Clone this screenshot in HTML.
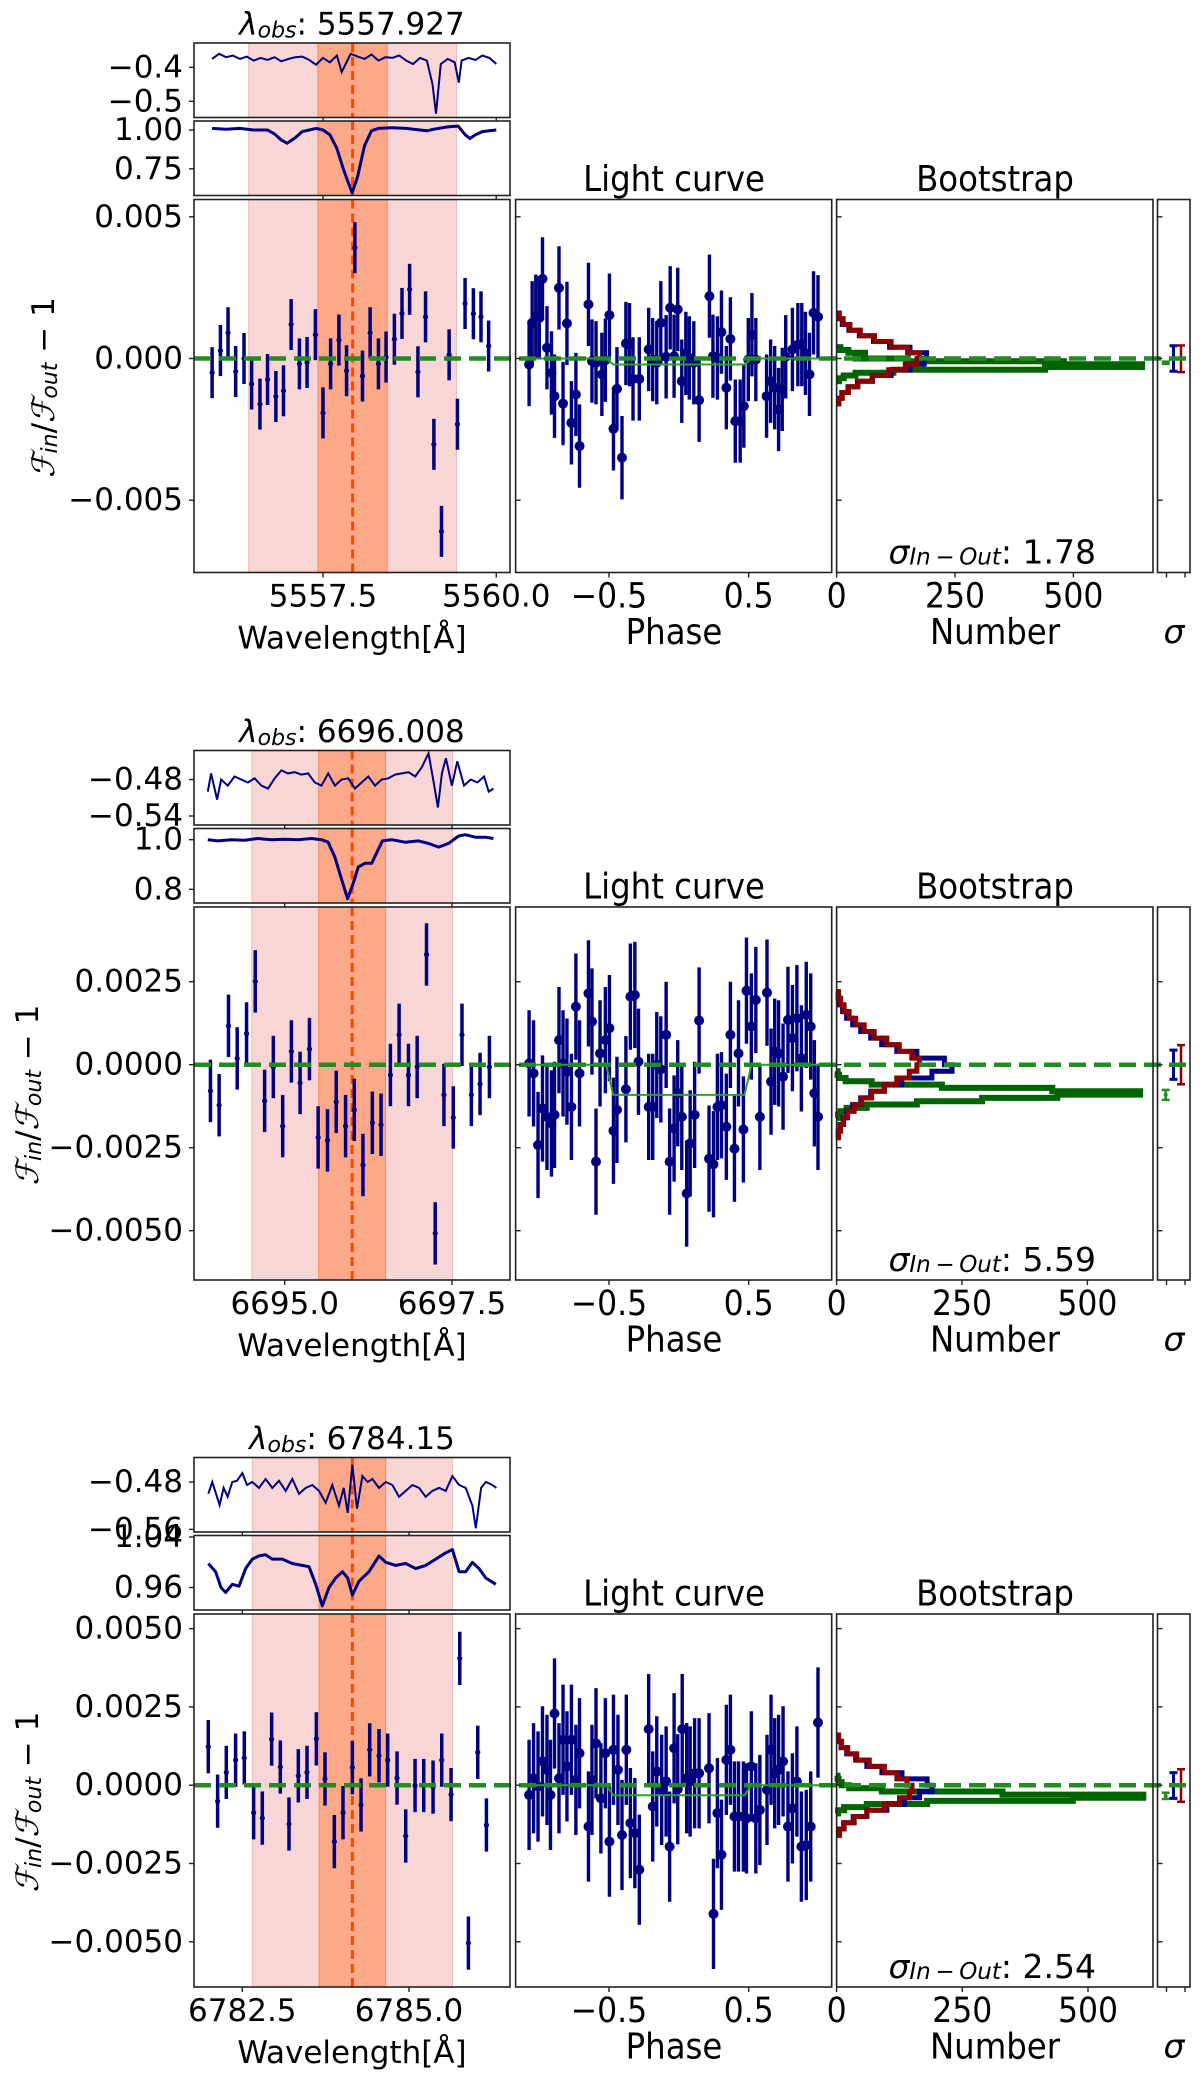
<!DOCTYPE html>
<html><head><meta charset="utf-8"><style>
html,body{margin:0;padding:0;background:#fff}
svg{display:block}
text{font-family:"DejaVu Sans","Liberation Sans",sans-serif;fill:#000}
.cond{font-family:"DejaVu Sans Condensed","DejaVu Sans","Liberation Sans Narrow",sans-serif;font-size:36px}
.condt{font-family:"DejaVu Sans Condensed","DejaVu Sans","Liberation Sans Narrow",sans-serif;font-size:35px}
</style></head><body>
<svg id="fig" width="1200" height="2083" viewBox="0 0 1200 2083" xmlns="http://www.w3.org/2000/svg"></svg>
<script>
// ---------- data ----------
const titles = ["5557.927","6696.008","6784.15"];
const sigmaVals = ["1.78","5.59","2.54"];
const lineCenters = [5557.927, 6696.008, 6784.15];
const wlTicks = [[5557.5,5560.0],[6695.0,6697.5],[6782.5,6785.0]];
const wlTickLabels = [["5557.5","5560.0"],["6695.0","6697.5"],["6782.5","6785.0"]];
const mainTicks = [[0.005,0,-0.005],[0.0025,0,-0.0025,-0.005],[0.005,0.0025,0,-0.0025,-0.005]];
const mainTickLabels = [["0.005","0.000","\u22120.005"],["0.0025","0.0000","\u22120.0025","\u22120.0050"],["0.0050","0.0025","0.0000","\u22120.0025","\u22120.0050"]];
const residTicks = [[-0.4,-0.5],[-0.48,-0.54],[-0.48,-0.56]];
const residTickLabels = [["\u22120.4","\u22120.5"],["\u22120.48","\u22120.54"],["\u22120.48","\u22120.56"]];
const fluxTicks = [[1.0,0.75],[1.0,0.8],[1.04,0.96]];
const fluxTickLabels = [["1.00","0.75"],["1.0","0.8"],["1.04","0.96"]];
const phaseTicks = [-0.5,0.5];
const phaseTickLabels = ["\u22120.5","0.5"];
const countTicks = [0,250,500];
const countTickLabels = ["0","250","500"];

// main transmission points
const p1Wl = [5555.90,5556.02,5556.13,5556.24,5556.36,5556.47,5556.59,5556.70,5556.82,5556.93,5557.04,5557.16,5557.27,5557.39,5557.50,5557.61,5557.73,5557.84,5557.96,5558.07,5558.18,5558.30,5558.41,5558.53,5558.64,5558.75,5558.87,5558.98,5559.10,5559.21,5559.32,5559.44,5559.55,5559.67,5559.78,5559.89];
const p1Val = [-0.0005,0.00028,0.00091,-0.00046,0,-0.0009,-0.00161,-0.00074,-0.00134,-0.00114,0.0012,-0.00019,-0.00014,0.00084,-0.00192,-0.00019,0.00065,-0.00043,0.00391,-0.00062,0.00091,-0.00019,0.00005,0.00068,0.00159,0.00244,-0.00047,0.00147,-0.00303,-0.0061,0.00013,-0.00232,0.00194,0.00158,0.00147,0.00044];
const p2Wl = [6693.89,6694.02,6694.16,6694.29,6694.43,6694.56,6694.70,6694.83,6694.97,6695.10,6695.23,6695.37,6695.50,6695.64,6695.77,6695.91,6696.04,6696.17,6696.31,6696.44,6696.58,6696.71,6696.85,6696.98,6697.12,6697.25,6697.38,6697.52,6697.65,6697.79,6697.92,6698.06];
const p2Val = [-0.00079,-0.00122,0.00117,0.00019,0.00094,0.00251,-0.00109,-0.00007,-0.00185,0.0004,-0.00055,0.00047,-0.00219,-0.00228,-0.00112,-0.00185,-0.00136,-0.00302,-0.00175,-0.00181,-0.00031,0.0009,-0.00031,-0.00007,0.00332,-0.00508,-0.00091,-0.00159,0.0009,-0.00091,-0.00058,-0.00007];
const p3Wl = [6781.99,6782.13,6782.26,6782.40,6782.53,6782.67,6782.80,6782.94,6783.07,6783.20,6783.34,6783.47,6783.61,6783.74,6783.88,6784.01,6784.15,6784.28,6784.41,6784.55,6784.68,6784.82,6784.95,6785.09,6785.22,6785.36,6785.49,6785.63,6785.76,6785.89,6786.03,6786.16];
const p3Val = [0.00123,-0.00051,0.00041,0.0008,0.00087,-0.00088,-0.00105,0.00147,0.00058,-0.00124,0.0003,0.00041,0.00148,0.0002,-0.0018,-0.00088,0.00056,-0.00063,0.00113,0.00094,0.0008,0.00023,-0.00162,-0.00001,-0.00001,-0.00006,0.0008,-0.0003,0.00405,-0.00504,0.00105,-0.00127];
const mainErr = [0.0009,0.00094,0.00085];

// residual spectra
const p1ResWl = [5555.9,5556.0,5556.1,5556.2,5556.3,5556.4,5556.5,5556.6,5556.7,5556.8,5556.9,5557.0,5557.1,5557.2,5557.3,5557.4,5557.5,5557.6,5557.7,5557.77,5557.9,5558.0,5558.1,5558.2,5558.3,5558.4,5558.5,5558.6,5558.7,5558.8,5558.9,5559.0,5559.08,5559.13,5559.2,5559.3,5559.4,5559.46,5559.5,5559.6,5559.7,5559.8,5559.9,5560.0];
const p1Res = [-0.375,-0.36,-0.37,-0.365,-0.375,-0.368,-0.38,-0.372,-0.378,-0.37,-0.382,-0.375,-0.37,-0.368,-0.378,-0.392,-0.372,-0.385,-0.365,-0.414,-0.36,-0.368,-0.375,-0.362,-0.38,-0.37,-0.372,-0.365,-0.38,-0.39,-0.372,-0.38,-0.45,-0.537,-0.39,-0.375,-0.385,-0.445,-0.38,-0.372,-0.378,-0.365,-0.372,-0.39];
const p2ResWl = [6693.85,6693.9,6693.99,6694.05,6694.15,6694.25,6694.35,6694.45,6694.55,6694.65,6694.75,6694.85,6694.95,6695.05,6695.15,6695.25,6695.35,6695.45,6695.55,6695.65,6695.75,6695.85,6695.95,6696.05,6696.15,6696.25,6696.35,6696.45,6696.55,6696.65,6696.75,6696.85,6696.95,6697.05,6697.15,6697.22,6697.29,6697.35,6697.41,6697.5,6697.58,6697.68,6697.78,6697.88,6697.98,6698.05,6698.12];
const p2Res = [-0.50,-0.47,-0.513,-0.48,-0.49,-0.475,-0.48,-0.485,-0.478,-0.49,-0.495,-0.478,-0.465,-0.47,-0.468,-0.472,-0.47,-0.485,-0.49,-0.47,-0.49,-0.48,-0.478,-0.495,-0.485,-0.475,-0.49,-0.48,-0.478,-0.472,-0.47,-0.468,-0.475,-0.46,-0.437,-0.48,-0.526,-0.47,-0.445,-0.49,-0.45,-0.49,-0.48,-0.485,-0.475,-0.50,-0.495];
const p3ResWl = [6781.99,6782.05,6782.16,6782.22,6782.28,6782.35,6782.42,6782.5,6782.57,6782.65,6782.75,6782.85,6782.95,6783.05,6783.15,6783.25,6783.35,6783.45,6783.55,6783.65,6783.75,6783.85,6783.95,6784.02,6784.08,6784.15,6784.22,6784.3,6784.38,6784.45,6784.55,6784.65,6784.75,6784.85,6784.95,6785.05,6785.15,6785.25,6785.35,6785.45,6785.55,6785.65,6785.75,6785.85,6785.95,6786.0,6786.08,6786.15,6786.25,6786.31];
const p3Res = [-0.50,-0.48,-0.519,-0.49,-0.505,-0.48,-0.478,-0.465,-0.485,-0.48,-0.49,-0.475,-0.49,-0.478,-0.495,-0.475,-0.50,-0.49,-0.485,-0.495,-0.515,-0.485,-0.52,-0.49,-0.532,-0.451,-0.525,-0.47,-0.48,-0.475,-0.49,-0.48,-0.485,-0.505,-0.495,-0.485,-0.49,-0.505,-0.495,-0.49,-0.495,-0.47,-0.485,-0.49,-0.52,-0.558,-0.49,-0.48,-0.485,-0.49];

// normalized flux spectra
const p1FluxWl = [5555.9,5556.1,5556.3,5556.5,5556.7,5556.8,5556.9,5556.98,5557.1,5557.2,5557.3,5557.4,5557.5,5557.6,5557.7,5557.8,5557.92,5558.0,5558.1,5558.2,5558.3,5558.5,5558.7,5558.9,5559.0,5559.1,5559.3,5559.45,5559.55,5559.62,5559.7,5559.8,5559.9,5560.0];
const p1Flux = [1.01,1.005,1.01,1.0,1.0,0.975,0.935,0.915,0.95,0.99,1.0,1.01,1.0,0.97,0.88,0.74,0.595,0.70,0.90,0.995,1.01,1.015,1.01,1.0,0.995,1.005,1.02,1.025,0.97,0.945,0.97,0.99,0.995,1.0];
const p2FluxWl = [6693.85,6694.0,6694.2,6694.4,6694.6,6694.8,6695.0,6695.2,6695.4,6695.55,6695.65,6695.75,6695.85,6695.94,6696.02,6696.1,6696.2,6696.3,6696.38,6696.46,6696.6,6696.8,6697.0,6697.15,6697.3,6697.45,6697.6,6697.7,6697.85,6698.0,6698.12];
const p2Flux = [1.0,0.995,1.0,0.998,1.005,1.0,1.002,1.0,1.005,1.0,0.99,0.93,0.84,0.762,0.82,0.89,0.905,0.905,0.95,0.995,1.0,0.99,0.995,0.985,0.97,0.985,1.015,1.02,1.01,1.01,1.005];
const p3FluxWl = [6781.99,6782.1,6782.18,6782.25,6782.35,6782.45,6782.55,6782.65,6782.75,6782.85,6782.95,6783.1,6783.25,6783.4,6783.5,6783.6,6783.7,6783.8,6783.9,6784.0,6784.08,6784.15,6784.25,6784.4,6784.55,6784.65,6784.8,6784.95,6785.1,6785.25,6785.4,6785.55,6785.65,6785.75,6785.85,6785.95,6786.05,6786.15,6786.3];
const p3Flux = [0.998,0.985,0.96,0.952,0.965,0.962,0.99,1.005,1.01,1.012,1.005,1.005,0.998,0.995,0.993,0.965,0.931,0.96,0.975,0.985,0.975,0.948,0.97,0.985,1.01,1.0,0.995,0.998,0.99,0.995,1.005,1.015,1.02,0.985,0.985,1.0,0.99,0.975,0.965];

// light curves
const p1LcPhase = [-1.072,-1.05,-1.024,-0.999,-0.976,-0.944,-0.912,-0.89,-0.858,-0.829,-0.801,-0.769,-0.737,-0.711,-0.647,-0.622,-0.593,-0.551,-0.526,-0.497,-0.468,-0.443,-0.407,-0.379,-0.353,-0.328,-0.283,-0.216,-0.187,-0.158,-0.129,-0.091,-0.062,-0.034,-0.008,0.021,0.05,0.075,0.107,0.145,0.219,0.244,0.276,0.305,0.34,0.369,0.404,0.439,0.465,0.497,0.523,0.551,0.628,0.657,0.686,0.714,0.74,0.765,0.813,0.852,0.88,0.906,0.935,0.964,0.996];
const p1LcVal = [-0.00021,0.00126,0.00149,0.00143,0.00281,0.00038,-0.00051,-0.00133,0.00249,-0.00159,0.00124,-0.00227,-0.00127,-0.00309,0.00191,-0.00009,-0.00015,-0.00056,-0.00006,0.00153,-0.00248,-0.00107,-0.0035,0.00053,0.00049,-0.00072,-0.00072,0.00032,-0.00004,-0.00015,0.00126,0.00006,0.00179,0.00008,0.00173,-0.0008,0.00018,0.00002,-0.00015,-0.00147,0.0022,0.00008,0.00002,0.00093,-0.00103,0.00069,-0.00221,-0.00221,-0.00168,-0.00004,0.00084,-0.00004,-0.00133,-0.0008,-0.00103,-0.0018,-0.00109,0.00006,0.00032,0.00049,0.00049,0.00018,-0.00056,0.00161,0.00147];
const p2LcPhase = [-1.072,-1.04,-1.008,-0.976,-0.944,-0.912,-0.89,-0.858,-0.829,-0.801,-0.769,-0.737,-0.711,-0.647,-0.622,-0.593,-0.564,-0.526,-0.497,-0.468,-0.443,-0.379,-0.347,-0.315,-0.289,-0.216,-0.187,-0.158,-0.129,-0.091,-0.066,-0.034,-0.008,0.021,0.056,0.081,0.113,0.145,0.216,0.248,0.276,0.305,0.34,0.369,0.398,0.427,0.462,0.484,0.519,0.551,0.58,0.631,0.66,0.686,0.714,0.746,0.781,0.813,0.845,0.877,0.912,0.944,0.97,0.996];
const p2LcVal = [0.00004,-0.00026,-0.00242,-0.00132,-0.00157,-0.00177,-0.00151,0.00074,0.00004,-0.00021,-0.00127,0.00175,-0.00026,0.00215,0.0013,-0.00292,0.00034,0.00074,0.0011,-0.00199,-0.00136,-0.00074,0.00205,0.0021,0.00009,-0.00127,-0.00127,-0.00001,-0.00014,0.0009,-0.00292,-0.00192,-0.00086,-0.00157,-0.00388,-0.00237,-0.00151,0.00133,-0.00283,-0.003,-0.00127,-0.00122,-0.00187,0.0009,-0.00253,0.00034,-0.00195,0.00223,0.00115,0.00195,-0.00157,0.00217,-0.00051,0.00039,0.00034,-0.00036,0.00135,0.0008,0.0014,0.00019,0.0015,0.00115,-0.00086,-0.00157];
const p3LcPhase = [-1.072,-1.04,-1.008,-0.976,-0.944,-0.919,-0.89,-0.858,-0.829,-0.801,-0.769,-0.737,-0.711,-0.647,-0.622,-0.593,-0.558,-0.526,-0.497,-0.468,-0.436,-0.407,-0.376,-0.347,-0.315,-0.283,-0.216,-0.187,-0.158,-0.123,-0.091,-0.066,-0.034,-0.008,0.024,0.056,0.081,0.113,0.145,0.216,0.248,0.276,0.305,0.34,0.369,0.398,0.427,0.462,0.484,0.519,0.551,0.58,0.631,0.66,0.686,0.714,0.746,0.781,0.813,0.845,0.877,0.912,0.944,0.996];
const p3LcVal = [-0.00031,0.00022,-0.00004,0.00076,0.00049,-0.00031,0.00229,0.00022,0.00145,0.0006,0.00145,0.00017,0.00102,-0.00132,0.00017,0.00134,-0.00042,0.00102,-0.0018,0.00113,0.00049,-0.00159,0.00113,-0.00121,-0.00153,-0.0027,0.00179,-0.00068,0.00044,-0.00015,0.00012,-0.00196,0.00118,-0.00013,0.00179,0.00022,0.00012,0.00038,0.00038,0.00054,-0.00411,-0.00089,-0.00222,0.00081,0.00113,-0.001,-0.001,-0.001,-0.00106,0.0006,-0.00106,-0.00079,-0.00015,0.00113,0.00038,0.00049,0.00076,-0.00132,-0.00074,0.00012,-0.00196,-0.00191,-0.00132,0.002];
const lcErr = [0.00147,0.0016,0.00176];
const modelPhase = [-1.1,-0.52,-0.47,0.47,0.52,1.1];
const modelDepth = [-0.00021,-0.00091,-0.00032];

// bootstrap histograms (bin edges in flux units, counts bottom->top)
const p1HistEdges = [-0.0016,-0.0014,-0.0012,-0.001,-0.0008,-0.0006,-0.0004,-0.0002,0,0.0002,0.0004,0.0006,0.0008,0.001,0.0012,0.0014,0.0016];
const p1Red = [5,12,25,45,75,110,145,170,175,150,115,80,50,28,14,6];
const p1Blue = [4,11,24,44,76,115,155,185,190,155,112,78,48,26,12,5];
const p1GreenEdges = [-0.0008,-0.0007,-0.0006,-0.0005,-0.0004,-0.0003,-0.0002,-0.0001,0,0.0001,0.0002,0.0003,0.0004];
const p1Green = [5,15,40,120,440,645,480,150,40,60,25,8];
const p2HistEdges = [-0.0022,-0.002,-0.0018,-0.0016,-0.0014,-0.0012,-0.001,-0.0008,-0.0006,-0.0004,-0.0002,0,0.0002,0.0004,0.0006,0.0008,0.001,0.0012,0.0014,0.0016,0.0018,0.002,0.0022];
const p2Red = [4,8,14,22,35,50,70,95,120,145,160,165,150,125,100,75,55,38,25,15,8,4];
const p2Blue = [3,7,13,20,32,48,68,95,130,190,230,215,160,120,90,68,48,32,20,12,6,3];
const p2GreenEdges = [-0.0016,-0.0015,-0.0014,-0.0013,-0.0012,-0.0011,-0.001,-0.0009,-0.0008,-0.0007,-0.0006,-0.0005,-0.0004,-0.0003,-0.0002];
const p2Green = [3,8,20,60,160,290,440,605,430,210,70,18,5,2];
const p3HistEdges = [-0.0016,-0.0014,-0.0012,-0.001,-0.0008,-0.0006,-0.0004,-0.0002,0,0.0002,0.0004,0.0006,0.0008,0.001,0.0012,0.0014,0.0016];
const p3Red = [6,15,35,60,95,125,145,150,140,120,95,65,40,22,10,4];
const p3Blue = [5,14,33,60,100,135,165,190,180,130,90,60,38,20,9,4];
const p3GreenEdges = [-0.0009,-0.0008,-0.0007,-0.0006,-0.0005,-0.0004,-0.0003,-0.0002,-0.0001,0,0.0001,0.0002,0.0003];
const p3Green = [3,15,60,180,470,610,330,90,25,10,4,2];

// sigma panel error bars: [center, half-width]
const sigGreen = [[-0.00015,0.00004],[-0.00091,0.00015],[-0.00034,0.0001]];
const sigBlue = [[0,0.00045],[0,0.00044],[-0.00001,0.00041]];
const sigRed = [[-0.00001,0.00047],[0,0.00059],[-0.00001,0.00052]];

// ---------- layout (pixels) ----------
const panelTop = [199.5, 907, 1614];
const H = 373;
const MX0=194, MX1=510, LX0=515.6, LX1=831.7, BX0=836.6, BX1=1153, SX0=1157.5, SX1=1190;
const zeroOff=[159,157.7,171.2], pxPerUnit=[28340,33200,31320];
const wlRef=[[5557.5,323],[6695,284.7],[6782.5,242.3]], wlScale=[69.3,66.9,66.7];
const resRef=[[-0.4,-132.1,-0.5,-98.2],[-0.48,-127.5,-0.54,-91],[-0.48,-132,-0.56,-84.6]];
const fluxRef=[[1.0,-69.5,0.75,-30.7],[1.0,-67.3,0.8,-17.7],[1.04,-77,0.96,-26.5]];
const countScale=[118.4/250,125.4/250,125.7/250];

const NS="http://www.w3.org/2000/svg";
const svg=document.getElementById('fig');
function el(tag,attrs,parent){const e=document.createElementNS(NS,tag);for(const k in attrs)e.setAttribute(k,attrs[k]);(parent||svg).appendChild(e);return e;}
function txt(x,y,s,size,anchor,parent,cls){const t=el('text',{x:x,y:y,'font-size':size,'text-anchor':anchor||'middle','dominant-baseline':'central'},parent);if(cls)t.setAttribute('class',cls);t.textContent=s;return t;}

const NAVY="#000080", GREEN="#228b22", DGREEN="#006400";
const allWl=[p1Wl,p2Wl,p3Wl], allVal=[p1Val,p2Val,p3Val];
const allResWl=[p1ResWl,p2ResWl,p3ResWl], allRes=[p1Res,p2Res,p3Res];
const allFluxWl=[p1FluxWl,p2FluxWl,p3FluxWl], allFlux=[p1Flux,p2Flux,p3Flux];
const allLcP=[p1LcPhase,p2LcPhase,p3LcPhase], allLcV=[p1LcVal,p2LcVal,p3LcVal];
const allEdges=[p1HistEdges,p2HistEdges,p3HistEdges], allRed=[p1Red,p2Red,p3Red], allBlue=[p1Blue,p2Blue,p3Blue];
const allGEdges=[p1GreenEdges,p2GreenEdges,p3GreenEdges], allGreen=[p1Green,p2Green,p3Green];

for(let i=0;i<3;i++){
  const T=panelTop[i];
  const g=el('g',{});
  
  
  const yM=v=>T+zeroOff[i]-v*pxPerUnit[i];
  const xW=w=>wlRef[i][1]+(w-wlRef[i][0])*wlScale[i];
  const rr=resRef[i], fr=fluxRef[i];
  const yR=v=>T+rr[1]+(v-rr[0])*(rr[3]-rr[1])/(rr[2]-rr[0]);
  const yF=v=>T+fr[1]+(v-fr[0])*(fr[3]-fr[1])/(fr[2]-fr[0]);
  const xP=p=>609+(p+0.5)*139.7;
  const xC=c=>BX0+c*countScale[i];
  const c0=lineCenters[i];

  const boxes=[[T-156.5,74.5],[T-78.5,74.5],[T,H]];
  boxes.forEach((b,bi)=>{
    const pk=el('rect',{x:xW(c0-1.5),y:b[0],width:xW(c0+1.5)-xW(c0-1.5),height:b[1],fill:'#f9d6d6',stroke:'#f3b9b9','stroke-width':1},g);
    
    
    const or=el('rect',{x:xW(c0-0.5),y:b[0],width:xW(c0+0.5)-xW(c0-0.5),height:b[1],fill:'#fba988',stroke:'#f28a66','stroke-width':1},g);
    
    
    const cl=el('line',{x1:xW(c0),x2:xW(c0),y1:b[0],y2:b[0]+b[1],stroke:'#ff4500','stroke-width':3,'stroke-dasharray':'9 5'},g);
    
    
  });

  let d=allResWl[i].map((w,k)=>(k?'L':'M')+xW(w).toFixed(1)+' '+yR(allRes[i][k]).toFixed(1)).join('');
  const rp=el('path',{d:d,fill:'none',stroke:NAVY,'stroke-width':2},g);
  
  
  d=allFluxWl[i].map((w,k)=>(k?'L':'M')+xW(w).toFixed(1)+' '+yF(allFlux[i][k]).toFixed(1)).join('');
  const fp=el('path',{d:d,fill:'none',stroke:NAVY,'stroke-width':3,'stroke-linejoin':'round'},g);
  
  

  allWl[i].forEach((w,k)=>{
    const x=xW(w), y=yM(allVal[i][k]);
    const eb=el('line',{x1:x,x2:x,y1:yM(allVal[i][k]+mainErr[i]),y2:yM(allVal[i][k]-mainErr[i]),stroke:NAVY,'stroke-width':3.5},g);
    
    
    const pt=el('circle',{cx:x,cy:y,r:2.6,fill:NAVY},g);
    
    
  });

  allLcP[i].forEach((p,k)=>{
    const x=xP(p), v=allLcV[i][k];
    const eb=el('line',{x1:x,x2:x,y1:yM(v+lcErr[i]),y2:yM(v-lcErr[i]),stroke:NAVY,'stroke-width':3.4},g);
    
    
    const pt=el('circle',{cx:x,cy:yM(v),r:5,fill:NAVY},g);
    
    
  });
  const mv=[0,0,modelDepth[i],modelDepth[i],0,0];
  d=modelPhase.map((p,k)=>(k?'L':'M')+Math.max(LX0,Math.min(LX1,xP(p))).toFixed(1)+' '+yM(mv[k]).toFixed(1)).join('');
  const mp=el('path',{d:d,fill:'none',stroke:'#2ca02c','stroke-width':2},g);
  
  

  function stepPath(edges,counts){let s='M'+xC(0)+' '+yM(edges[0]);counts.forEach((c,k)=>{s+='L'+xC(c).toFixed(1)+' '+yM(edges[k]).toFixed(1)+'L'+xC(c).toFixed(1)+' '+yM(edges[k+1]).toFixed(1);});s+='L'+xC(0)+' '+yM(edges[edges.length-1]);return s;}
  const hg=el('path',{d:stepPath(allGEdges[i],allGreen[i]),fill:'none',stroke:DGREEN,'stroke-width':6},g);
  
  
  const hb=el('path',{d:stepPath(allEdges[i],allBlue[i]),fill:'none',stroke:'#00008b','stroke-width':5},g);
  
  
  const hr=el('path',{d:stepPath(allEdges[i],allRed[i]),fill:'none',stroke:'#8b0000','stroke-width':5},g);
  
  

  [[sigGreen,1165.7,GREEN,2.5],[sigBlue,1173.5,'#00008b',3],[sigRed,1181,'#8b0000',2.5]].forEach(s=>{
    const c=s[0][i][0],h=s[0][i][1],x=s[1];
    const gg=el('g',{stroke:s[2],'stroke-width':s[3],fill:'none'},g);
    
    
    el('line',{x1:x,x2:x,y1:yM(c+h),y2:yM(c-h)},gg);
    el('line',{x1:x-4,x2:x+4,y1:yM(c+h),y2:yM(c+h)},gg);
    el('line',{x1:x-4,x2:x+4,y1:yM(c-h),y2:yM(c-h)},gg);
    if(s[2]===GREEN) el('circle',{cx:x,cy:yM(c),r:2,fill:GREEN,stroke:'none'},gg);
  });

  const zl=el('line',{x1:MX0,x2:SX1,y1:yM(0),y2:yM(0),stroke:GREEN,'stroke-width':4.5,'stroke-dasharray':'17 8'},g);
  
  

  [[MX0,T-156.5,MX1-MX0,74.5,'residual-axes'],[MX0,T-78.5,MX1-MX0,74.5,'flux-axes'],[MX0,T,MX1-MX0,H,'transmission-axes'],[LX0,T,LX1-LX0,H,'lightcurve-axes'],[BX0,T,BX1-BX0,H,'bootstrap-axes'],[SX0,T,SX1-SX0,H,'sigma-axes']].forEach(f=>{
    const r=el('rect',{x:f[0],y:f[1],width:f[2],height:f[3],fill:'none',stroke:'#222','stroke-width':1.6},g);
    
    
  });

  mainTicks[i].forEach((v,k)=>{
    const y=yM(v);
    el('line',{x1:MX0-5,x2:MX0,y1:y,y2:y,stroke:'#222','stroke-width':1.4},g);
    [LX0,BX0,SX0].forEach(x=>el('line',{x1:x,x2:x+5,y1:y,y2:y,stroke:'#222','stroke-width':1.4},g));
    const t=txt(183,y,mainTickLabels[i][k],31,'end',g);
    
    
  });
  residTicks[i].forEach((v,k)=>{const y=yR(v);el('line',{x1:MX0-5,x2:MX0,y1:y,y2:y,stroke:'#222','stroke-width':1.4},g);const t=txt(183,y,residTickLabels[i][k],31,'end',g);});
  fluxTicks[i].forEach((v,k)=>{const y=yF(v);el('line',{x1:MX0-5,x2:MX0,y1:y,y2:y,stroke:'#222','stroke-width':1.4},g);const t=txt(183,y,fluxTickLabels[i][k],31,'end',g);});

  const yb=T+H, yl=T+397;
  wlTicks[i].forEach((w,k)=>{const x=xW(w);el('line',{x1:x,x2:x,y1:yb,y2:yb+5,stroke:'#222','stroke-width':1.4},g);el('line',{x1:x,x2:x,y1:T-4,y2:T,stroke:'#222','stroke-width':1.4},g);el('line',{x1:x,x2:x,y1:T-82.5,y2:T-78.5,stroke:'#222','stroke-width':1.4},g);const t=txt(x,yl,wlTickLabels[i][k],31,'middle',g);});
  phaseTicks.forEach((p,k)=>{const x=xP(p);el('line',{x1:x,x2:x,y1:yb,y2:yb+5,stroke:'#222','stroke-width':1.4},g);const t=txt(x,yl,phaseTickLabels[k],35,'middle',g,'condt');});
  countTicks.forEach((c,k)=>{const x=xC(c);el('line',{x1:x,x2:x,y1:yb,y2:yb+5,stroke:'#222','stroke-width':1.4},g);const t=txt(x,yl,countTickLabels[k],35,'middle',g,'condt');});
  [1166.5,1185].forEach(x=>el('line',{x1:x,x2:x,y1:yb,y2:yb+5,stroke:'#222','stroke-width':1.4},g));

  const la=[[352,T+439,'Wavelength[\u00c5]','wavelength-label',''],[674,T+433,'Phase','phase-label','cond'],[995,T+433,'Number','number-label','cond'],[674,T-20,'Light curve','lightcurve-title','cond'],[995,T-20,'Bootstrap','bootstrap-title','cond']];
  la.forEach(l=>{const t=txt(l[0],l[1],l[2],l[4]?36:31,'middle',g,l[4]);});
  const sg=el('text',{x:1174,y:T+432,'font-size':33,'text-anchor':'middle','dominant-baseline':'central','font-style':'italic'},g);
  sg.textContent='\u03c3';
  
  

  const tt=el('text',{x:352,y:T-175,'font-size':31,'text-anchor':'middle','dominant-baseline':'central'},g);
  tt.innerHTML='<tspan font-style="italic">\u03bb</tspan><tspan font-style="italic" font-size="22" dy="6">obs</tspan><tspan dy="-6">: '+titles[i]+'</tspan>';
  
  

  const st=el('text',{x:1096,y:T+352,'font-size':33,'text-anchor':'end','dominant-baseline':'central'},g);
  st.innerHTML='<tspan font-style="italic">\u03c3</tspan><tspan font-style="italic" font-size="23" dy="6">In\u2009\u2212\u2009Out</tspan><tspan dy="-6">: '+sigmaVals[i]+'</tspan>';
  
  

  const yx=i===0?44:28, yc=T+188;
  const yt=el('text',{x:0,y:0,'font-size':31,'text-anchor':'middle','dominant-baseline':'central',transform:'translate('+yx+','+yc+') rotate(-90)'},g);
  yt.innerHTML='<tspan font-style="italic" font-family="DejaVu Serif, serif">\u2131</tspan><tspan font-style="italic" font-size="22" dy="6">in</tspan><tspan dy="-6">/</tspan><tspan font-style="italic" font-family="DejaVu Serif, serif">\u2131</tspan><tspan font-style="italic" font-size="22" dy="6">out</tspan><tspan dy="-6"> \u2212 1</tspan>';
  
  
}
</script>
</body></html>
